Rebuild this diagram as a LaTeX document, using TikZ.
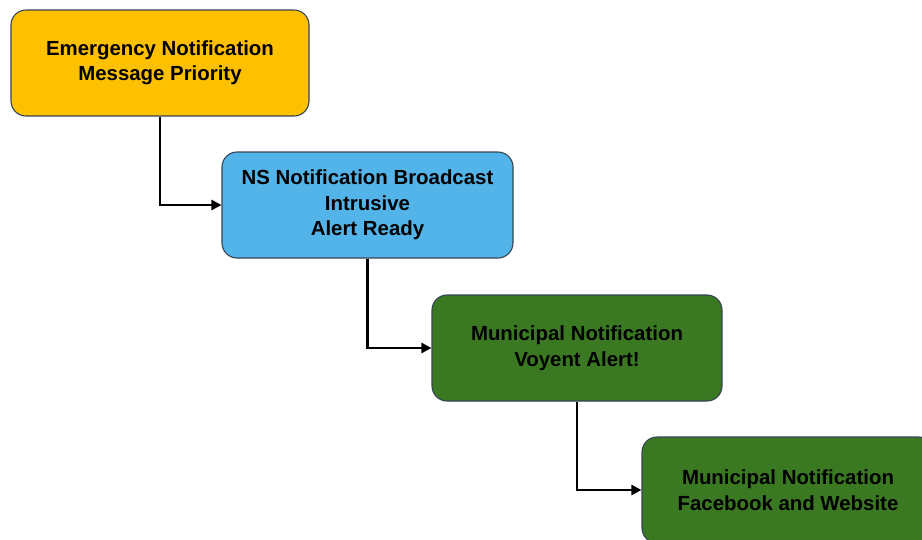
\documentclass[tikz,border=0pt]{standalone}
\usepackage{fontspec}
\setmainfont{Liberation Sans}
\usetikzlibrary{arrows.meta}

\definecolor{emergYellow}{RGB}{255,192,0}
\definecolor{nsBlue}{RGB}{82,180,232}
\definecolor{muniGreen}{RGB}{58,120,34}
\definecolor{edgeGrey}{RGB}{52,68,86}

\begin{document}
\begin{tikzpicture}[x=1pt,y=1pt,yscale=-1,
  stage/.style={draw=edgeGrey,line width=1.1pt,rounded corners=15pt,
    minimum height=106pt,inner sep=0pt,align=center,
    font=\bfseries\fontsize{20.4}{25.5}\selectfont},
  flow/.style={line width=2.9pt,-{Triangle[length=10pt,width=10pt]}}]
\useasboundingbox (0,0) rectangle (922,539);
\clip (0,0) rectangle (922,539);

% Stage boxes
\node [stage,fill=emergYellow,minimum width=298pt] (emerg) at (160,63)
  {Emergency Notification\\Message Priority};
\node [stage,fill=nsBlue,minimum width=291pt] (ns) at (367.5,205)
  {NS Notification Broadcast\\Intrusive\\Alert Ready};
\node [stage,fill=muniGreen,minimum width=290pt] (voyent) at (577,348)
  {Municipal Notification\\Voyent Alert!};
\node [stage,fill=muniGreen,minimum width=292pt] (web) at (788,490)
  {Municipal Notification\\Facebook and Website};

% Connectors
\draw [flow] (emerg.south) |- (ns.west);
\draw [flow] (ns.south) |- (voyent.west);
\draw [flow] (voyent.south) |- (web.west);

\end{tikzpicture}
\end{document}
